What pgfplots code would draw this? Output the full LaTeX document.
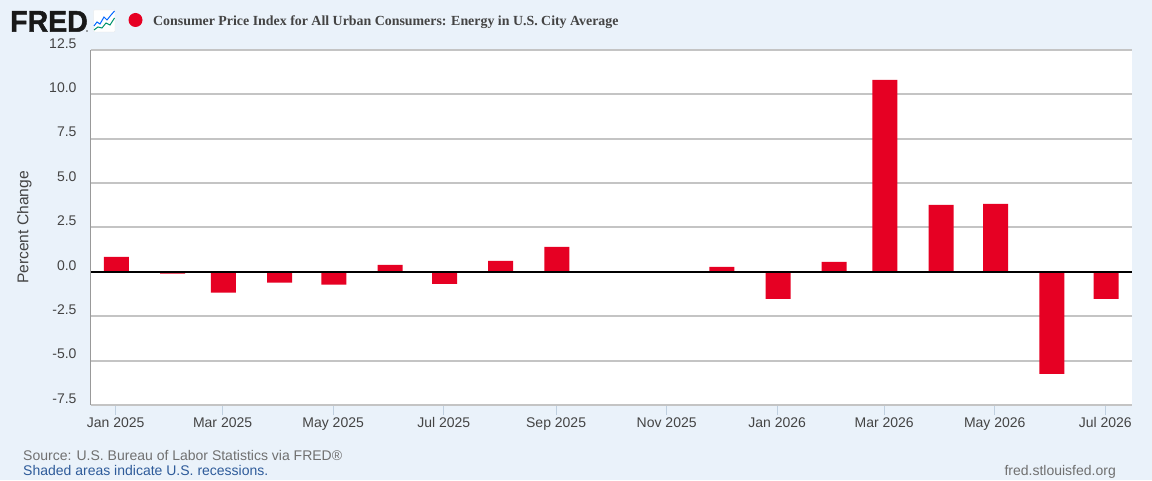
\documentclass[border=0pt]{standalone}
\usepackage{fontspec}
\setmainfont{Liberation Sans}
\newfontfamily\titlefont{Liberation Serif}
\newfontfamily\logofont[FakeBold=1.6]{Liberation Sans Bold}
\usepackage{pgfplots}
\pgfplotsset{compat=1.18}
\usepackage{pgfplotstable}
\definecolor{fredbg}{HTML}{EAF2FA}
\definecolor{fredred}{HTML}{E60023}
\definecolor{fredgrid}{HTML}{C4C4C4}
\definecolor{fredtick}{HTML}{C0D0E0}
\definecolor{fredtext}{HTML}{444444}
\definecolor{fredsrc}{HTML}{707070}
\definecolor{fredblue}{HTML}{2E5B9A}

% x = days since 1 Jan 2025, so months fall as on the date axis
\pgfplotstableread{
day   pct
0     0.85
31   -0.10
59   -1.17
90   -0.60
120  -0.72
151   0.39
181  -0.68
212   0.62
243   1.41
334   0.28
365  -1.52
396   0.56
424  10.82
455   3.77
485   3.83
516  -5.75
546  -1.52
}\cpidata

\begin{document}
\begin{tikzpicture}[x=1pt,y=1pt]
\useasboundingbox (0,0) rectangle (1152,480);
\fill[fredbg] (0,0) rectangle (1152,480);

% logo
\node[anchor=base west,inner sep=0pt,font=\fontsize{30}{30}\selectfont\logofont,text=black!90,xscale=0.95] at (10,448.3) {FRED};
\fill[black!70] (87,449) circle (0.8);
\fill[white,draw=black!10,line width=0.3pt,rounded corners=1pt] (93.5,448) rectangle (115,470);
\draw[blue!60!cyan,line width=1pt] (94,454) -- (97,458) -- (100,456) -- (104,463) -- (107,460) -- (111,465) -- (114.5,469);
\draw[teal!85!green,line width=1pt] (94,450) -- (98,453) -- (102,452) -- (106,457) -- (110,455) -- (114.5,462);

% legend
\fill[fredred] (135.5,460) circle (7);
\node[anchor=base west,inner sep=0pt,text=fredtext,font=\fontsize{13.9}{16}\selectfont\titlefont\bfseries] at (153,454.5) {Consumer Price Index for All Urban Consumers: Energy in U.S. City Average};

\begin{axis}[
  at={(91pt,75pt)}, anchor=south west,
  scale only axis, width=1041pt, height=355pt,
  xmin=-13.6, xmax=560.7, ymin=-7.5, ymax=12.5,
  axis background/.style={fill=white},
  axis line style={draw=none},
  ybar, bar width=25pt, bar shift=0.8pt,
  xtick={0,59,120,181,243,304,365,424,485,546},
  xticklabels={Jan 2025,Mar 2025,May 2025,Jul 2025,Sep 2025,Nov 2025,Jan 2026,Mar 2026,May 2026,Jul 2026},
  ytick={-7.5,-5,-2.5,0,2.5,5,7.5,10,12.5},
  yticklabel={\pgfmathprintnumber[fixed,fixed zerofill,precision=1,assume math mode=true]{\tick}},
  tick align=outside,
  x tick style={draw=fredtick,line width=1pt},
  xtick pos=bottom, major tick length=10pt,
  y tick style={draw=none},
  ymajorgrids, grid style={draw=fredgrid,line width=2pt},
  ticklabel style={text=fredtext,font=\fontsize{14}{16}\selectfont},
  xticklabel style={yshift=1.5pt,text height=10pt,text depth=3pt},
  yticklabel style={yshift=6.5pt,xshift=-1pt},
  ylabel={Percent Change},
  ylabel style={text=fredtext,font=\fontsize{15.6}{18}\selectfont},
  every axis y label/.append style={at={(axis description cs:-0.064,0.5)},anchor=center},
  clip=false,
]
\addplot[fill=fredred,draw=none] table[x=day,y=pct] {\cpidata};
\draw[black,line width=2pt] (axis cs:-13.6,0) -- (axis cs:560.7,0);
\draw[fredgrid,line width=2pt] (axis cs:-13.6,-7.5) -- (axis cs:560.7,-7.5);
\draw[gray!80,line width=1pt] (axis cs:-13.6,-7.5) -- (axis cs:-13.6,12.5);
\end{axis}

% footer
\node[anchor=base west,inner sep=0pt,text=fredsrc,font=\fontsize{14}{16}\selectfont] at (23,20) {Source: U.S. Bureau of Labor Statistics via FRED®};
\node[anchor=base west,inner sep=0pt,text=fredblue,font=\fontsize{14}{16}\selectfont] at (23,5) {Shaded areas indicate U.S. recessions.};
\node[anchor=base east,inner sep=0pt,text=fredsrc,font=\fontsize{14}{16}\selectfont] at (1116,5) {fred.stlouisfed.org};
\end{tikzpicture}
\end{document}
